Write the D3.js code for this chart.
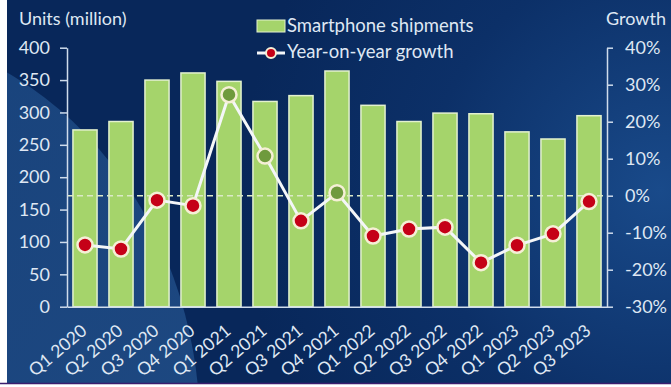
<!DOCTYPE html>
<html><head><meta charset="utf-8">
<script src="https://cdn.jsdelivr.net/npm/d3@7"></script>
<style>
html,body{margin:0;padding:0;background:#fff;}
svg{display:block;}
text{font-family:Lato, "Open Sans", sans-serif;}
</style></head>
<body>
<svg id="chart" width="671" height="387"></svg>
<script>
const categories = ["Q1 2020","Q2 2020","Q3 2020","Q4 2020","Q1 2021","Q2 2021","Q3 2021","Q4 2021","Q1 2022","Q2 2022","Q3 2022","Q4 2022","Q1 2023","Q2 2023","Q3 2023"];
const shipments = [273, 286, 350, 361, 348, 317, 326, 364, 311, 286, 299, 298, 270, 259, 295];
const growth = [-13.3, -14.4, -1.2, -2.7, 27.3, 10.7, -6.8, 0.8, -10.9, -9.0, -8.5, -18.1, -13.4, -10.3, -1.6];
const leftTicks = [0, 50, 100, 150, 200, 250, 300, 350, 400];
const rightTicks = [-30, -20, -10, 0, 10, 20, 30, 40];

const svg = d3.select("#chart");
const defs = svg.append("defs");
const rg = defs.append("radialGradient").attr("id","bg").attr("gradientUnits","userSpaceOnUse")
  .attr("cx",660).attr("cy",190).attr("r",420);
rg.append("stop").attr("offset","0%").attr("stop-color","#194a8a");
rg.append("stop").attr("offset","55%").attr("stop-color","#0c3068");
rg.append("stop").attr("offset","100%").attr("stop-color","#08275a");
const lg = defs.append("linearGradient").attr("id","sw").attr("x1","0").attr("y1","0").attr("x2","1").attr("y2","1");
lg.append("stop").attr("offset","0%").attr("stop-color","#1b4a86");
lg.append("stop").attr("offset","100%").attr("stop-color","#2a5a95");

svg.append("rect").attr("x",7).attr("y",0).attr("width",664).attr("height",383).attr("fill","url(#bg)");
const clip = defs.append("clipPath").attr("id","cl");
clip.append("rect").attr("x",7).attr("y",0).attr("width",664).attr("height",383);
svg.append("ellipse").attr("clip-path","url(#cl)")
  .attr("cx",-150).attr("cy",430).attr("rx",350).attr("ry",400)
  .attr("fill","url(#sw)").attr("opacity",0.7);
svg.append("line").attr("x1",0).attr("x2",671).attr("y1",383.5).attr("y2",383.5)
  .attr("stroke","#3b1d6e").attr("stroke-width",1.5);

const x = d3.scaleBand().domain(categories).range([67,607]).paddingInner(0.33).paddingOuter(0.165);
const yL = d3.scaleLinear().domain([0,400]).range([306.7,47.7]);
const yR = d3.scaleLinear().domain([-30,40]).range([306.7,47.7]);

const axisColor = "#cfdcec";
const textColor = "#dfe7f3";

// bars
svg.append("g").selectAll("rect").data(categories).join("rect")
  .attr("x", d => x(d))
  .attr("y", (d,i) => yL(shipments[i]))
  .attr("width", x.bandwidth())
  .attr("height", (d,i) => yL(0) - yL(shipments[i]))
  .attr("fill","#a5d46b")
  .attr("stroke","#e3f1cf").attr("stroke-width",1.5);

// zero dashed line
svg.append("line").attr("x1",67).attr("x2",607).attr("y1",yR(0)).attr("y2",yR(0))
  .attr("stroke","#dbe9c6").attr("stroke-width",1.5).attr("stroke-dasharray","6,4");

// left axis
const gL = svg.append("g").attr("transform","translate(67,0)")
  .call(d3.axisLeft(yL).tickValues(leftTicks).tickSize(7).tickPadding(10).tickSizeOuter(0));
gL.select(".domain").attr("stroke",axisColor).attr("stroke-width",1.5);
gL.selectAll(".tick line").attr("stroke",axisColor).attr("stroke-width",1.5);
gL.selectAll(".tick text").attr("fill",textColor).attr("font-size",18).attr("font-family","Lato, sans-serif");

// right axis
const gR = svg.append("g").attr("transform","translate(607,0)")
  .call(d3.axisRight(yR).tickValues(rightTicks).tickFormat(d => d + "%").tickSize(6).tickPadding(12).tickSizeOuter(0));
gR.select(".domain").attr("stroke",axisColor).attr("stroke-width",1.5);
gR.selectAll(".tick line").attr("stroke",axisColor).attr("stroke-width",1.5);
gR.selectAll(".tick text").attr("fill",textColor).attr("font-size",18).attr("font-family","Lato, sans-serif");

// bottom axis
const gB = svg.append("g").attr("transform","translate(0,306.7)")
  .call(d3.axisBottom(x).tickSize(0).tickSizeOuter(0).tickPadding(0));
gB.select(".domain").attr("stroke",axisColor).attr("stroke-width",1.5);
gB.selectAll(".tick text")
  .attr("fill",textColor).attr("font-size",17.5).attr("font-family","Lato, sans-serif")
  .attr("text-anchor","end").attr("dy",0)
  .attr("transform","translate(3,26) rotate(-40)");

// growth line
const line = d3.line().x((d,i) => x(categories[i]) + x.bandwidth()/2).y(d => yR(d));
svg.append("path").datum(growth).attr("d", line)
  .attr("fill","none").attr("stroke","#f4f6f8").attr("stroke-width",3);
svg.append("g").selectAll("circle").data(growth).join("circle")
  .attr("cx",(d,i) => x(categories[i]) + x.bandwidth()/2)
  .attr("cy", d => yR(d))
  .attr("r",7.5)
  .attr("fill", d => d >= 0 ? "#6f9a3d" : "#c50017")
  .attr("stroke","#f5efd6").attr("stroke-width",2.5);

// titles
svg.append("text").attr("x",19).attr("y",25).attr("fill",textColor).attr("font-size",18).text("Units (million)");
svg.append("text").attr("x",666).attr("y",25).attr("text-anchor","end").attr("fill",textColor).attr("font-size",18).text("Growth");

// legend
svg.append("rect").attr("x",257).attr("y",20).attr("width",28).attr("height",12)
  .attr("fill","#a5d46b").attr("stroke","#e3f1cf").attr("stroke-width",1);
svg.append("text").attr("x",287).attr("y",32).attr("fill",textColor).attr("font-size",18.5).text("Smartphone shipments");
svg.append("line").attr("x1",257).attr("x2",285).attr("y1",53).attr("y2",53).attr("stroke","#f4f6f8").attr("stroke-width",3);
svg.append("circle").attr("cx",271).attr("cy",53).attr("r",5).attr("fill","#c50017").attr("stroke","#f5efd6").attr("stroke-width",2);
svg.append("text").attr("x",287).attr("y",58).attr("fill",textColor).attr("font-size",18.5).text("Year-on-year growth");
</script>
</body></html>
